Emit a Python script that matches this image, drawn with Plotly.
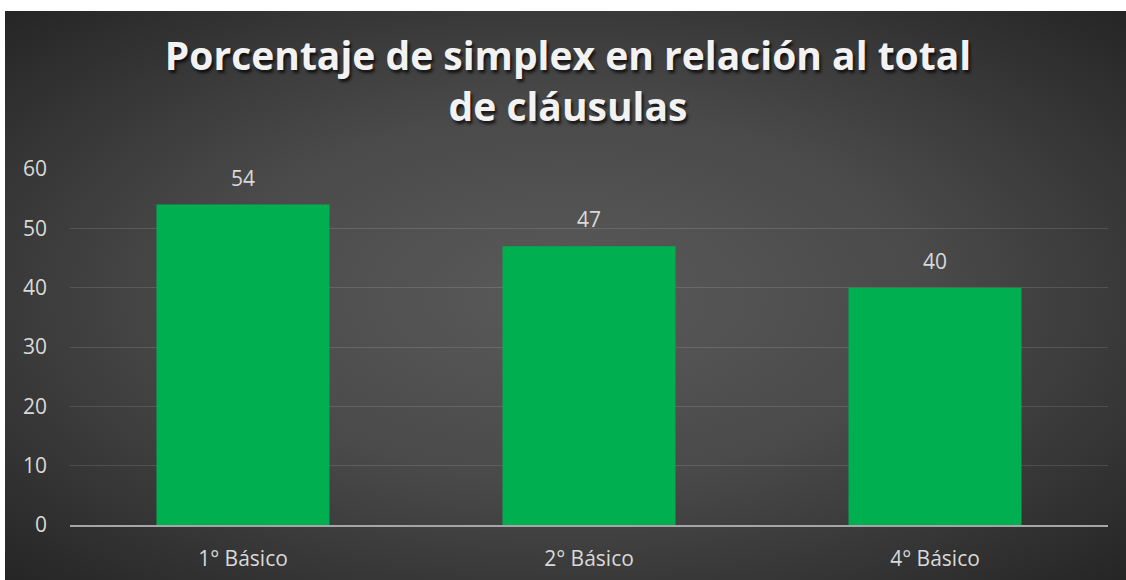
import base64
import plotly.graph_objects as go

# ---- data ----
categories = ["1° Básico", "2° Básico", "4° Básico"]
values = [54, 47, 40]
y_ticks = [0, 10, 20, 30, 40, 50, 60]
title_text = "Porcentaje de simplex en relación al total<br>de cláusulas"

# ---- layout geometry ----
W, H = 1126, 580
ML, MR, MT, MB = 70, 18, 169, 55
PW, PH = W - ML - MR, H - MT - MB

# radial gradient background (Excel dark style)
svg = (
    '<svg xmlns="http://www.w3.org/2000/svg" width="1121" height="569" '
    'viewBox="0 0 1121 569" preserveAspectRatio="none">'
    '<defs><radialGradient id="g" cx="50%" cy="50%" r="72%">'
    '<stop offset="0" stop-color="#5a5a5a"/>'
    '<stop offset="0.45" stop-color="#4a4a4a"/>'
    '<stop offset="1" stop-color="#242424"/>'
    '</radialGradient></defs>'
    '<rect width="1121" height="569" fill="url(#g)"/></svg>'
)
bg_uri = "data:image/svg+xml;base64," + base64.b64encode(svg.encode()).decode()

fig = go.Figure()
fig.add_trace(go.Bar(
    x=categories, y=values,
    marker=dict(color="#00b050", line=dict(width=0)),
    hoverinfo="x+y",
))

annotations = [
    dict(x=c, y=v, xref="x", yref="y", text=str(v), showarrow=False,
         yanchor="bottom", yshift=11,
         font=dict(family="Open Sans", size=21, color="#d9d9d9"))
    for c, v in zip(categories, values)
]

fig.update_layout(
    width=W, height=H,
    margin=dict(l=ML, r=MR, t=MT, b=MB, pad=0, autoexpand=False),
    paper_bgcolor="#242424",
    plot_bgcolor="rgba(0,0,0,0)",
    showlegend=False,
    bargap=0.5,
    title=dict(
        text=title_text,
        x=568 / W, xanchor="center", xref="container",
        y=1 - 70 / H, yanchor="top", yref="container",
        font=dict(family="Open Sans", size=39, color="#f2f2f2", weight="bold",
                  shadow="2px 3px 3px rgba(0,0,0,0.7)"),
    ),
    images=[dict(
        source=bg_uri, xref="paper", yref="paper",
        x=(5 - ML) / PW, y=(H - MB - 11) / PH,
        sizex=(W - 5) / PW, sizey=(H - 11) / PH,
        xanchor="left", yanchor="top", sizing="stretch", layer="below",
    )],
    shapes=[
        dict(type="rect", xref="paper", yref="paper", layer="below",
             x0=(0 - ML) / PW, x1=(5 - ML) / PW, y0=-MB / PH, y1=(H - MB) / PH,
             fillcolor="#ffffff", line=dict(width=0)),
        dict(type="rect", xref="paper", yref="paper", layer="below",
             x0=(0 - ML) / PW, x1=(W - ML) / PW, y0=(H - MB - 11) / PH, y1=(H - MB) / PH,
             fillcolor="#ffffff", line=dict(width=0)),
    ],
    annotations=annotations,
    xaxis=dict(
        automargin=False,
        showgrid=False, showline=True, linecolor="#a6a6a6", linewidth=2,
        ticks="", ticklabelstandoff=14,
        tickfont=dict(family="Open Sans", size=21, color="#d9d9d9"),
        zeroline=False,
    ),
    yaxis=dict(
        automargin=False,
        range=[0, 60], tickvals=y_ticks, showgrid=True,
        gridcolor="rgba(255,255,255,0.12)", gridwidth=1,
        showline=False, zeroline=False, ticks="", ticklabelstandoff=22,
        tickfont=dict(family="Open Sans", size=21, color="#d9d9d9"),
    ),
)

fig.write_html(
    "out.html",
    config={"displayModeBar": False},
    post_script=("document.documentElement.style.margin='0';"
                 "document.body.style.margin='0';"
                 "document.documentElement.style.overflow='hidden';"
                 "document.body.style.overflow='hidden';"),
)
